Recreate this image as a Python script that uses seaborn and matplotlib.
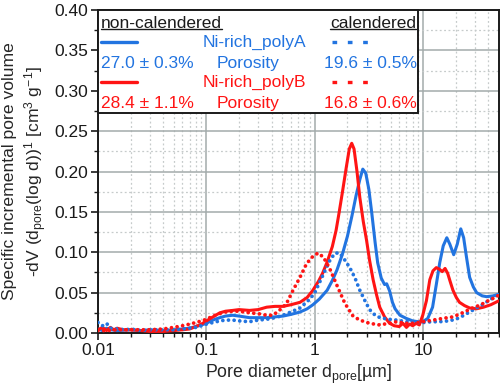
import matplotlib
matplotlib.use("Agg")
import matplotlib.pyplot as plt
import seaborn as sns
import numpy as np
import pandas as pd
from matplotlib.ticker import FixedLocator, FuncFormatter, MultipleLocator, LogLocator, NullFormatter
from matplotlib.lines import Line2D
from matplotlib.patches import Rectangle

# ---------------- data ----------------
dA_nc = [0.01, 0.011, 0.012, 0.013, 0.015, 0.02, 0.025, 0.03, 0.04, 0.05, 0.06, 0.07, 0.08, 0.09,
         0.1, 0.11, 0.12, 0.133, 0.15, 0.175, 0.2, 0.25, 0.3, 0.36, 0.43, 0.51, 0.6, 0.73, 0.85, 0.96,
         1.1, 1.3, 1.45, 1.6, 1.8, 2.0, 2.2, 2.4, 2.6, 2.77, 2.95, 3.15, 3.35, 3.6, 3.8, 4.1, 4.4,
         4.6, 4.9, 5.2, 5.5, 6.1, 7.0, 8.0, 9.0, 9.9, 11.0, 12.2, 13.2, 14.2, 15.3, 16.5, 17.6,
         19.1, 20.6, 22.2, 23.6, 25.0, 26.8, 29.0, 31.1, 35.0, 38.5, 44.0, 50.0]
vA_nc = [0.005, 0.003, 0.006, 0.004, 0.003, 0.004, 0.003, 0.004, 0.003, 0.004, 0.005, 0.006, 0.008, 0.010,
         0.012, 0.015, 0.017, 0.019, 0.021, 0.022, 0.021, 0.019, 0.019, 0.019, 0.020, 0.021, 0.023, 0.026, 0.030, 0.035,
         0.042, 0.053, 0.065, 0.078, 0.098, 0.120, 0.145, 0.170, 0.190, 0.203, 0.198, 0.178, 0.149, 0.112, 0.087, 0.068, 0.060,
         0.061, 0.052, 0.038, 0.030, 0.022, 0.018, 0.015, 0.014, 0.014, 0.018, 0.032, 0.060, 0.087, 0.108, 0.118, 0.110,
         0.097, 0.110, 0.129, 0.118, 0.095, 0.069, 0.057, 0.050, 0.046, 0.045, 0.046, 0.048]

dB_nc = [0.01, 0.011, 0.012, 0.013, 0.014, 0.015, 0.017, 0.02, 0.025, 0.03, 0.04, 0.05, 0.06, 0.07, 0.08, 0.09,
         0.1, 0.115, 0.133, 0.15, 0.175, 0.2, 0.25, 0.3, 0.36, 0.43, 0.51, 0.6, 0.73, 0.85, 0.96,
         1.08, 1.18, 1.3, 1.45, 1.57, 1.67, 1.8, 1.95, 2.08, 2.19, 2.3, 2.45, 2.6, 2.8, 3.0, 3.2, 3.45,
         3.7, 3.97, 4.4, 4.9, 5.4, 6.0, 6.5, 7.0, 7.5, 8.0, 8.6, 9.2, 9.9, 10.7, 11.5, 12.3, 13.2, 14.1,
         15.0, 15.9, 16.8, 17.8, 18.8, 20.2, 21.6, 24.0, 26.8, 31.0, 36.0, 42.0, 50.0]
vB_nc = [0.004, 0.007, 0.003, 0.007, 0.004, 0.006, 0.004, 0.004, 0.003, 0.002, 0.002, 0.003, 0.004, 0.005, 0.008, 0.011,
         0.015, 0.020, 0.025, 0.027, 0.028, 0.029, 0.028, 0.029, 0.032, 0.033, 0.033, 0.035, 0.038, 0.044, 0.053,
         0.064, 0.074, 0.088, 0.107, 0.127, 0.148, 0.175, 0.205, 0.228, 0.235, 0.228, 0.200, 0.168, 0.138, 0.115, 0.090, 0.066,
         0.048, 0.032, 0.020, 0.012, 0.009, 0.008, 0.012, 0.007, 0.011, 0.009, 0.012, 0.010, 0.022, 0.040, 0.066, 0.077, 0.081, 0.079,
         0.076, 0.080, 0.074, 0.063, 0.053, 0.044, 0.038, 0.034, 0.031, 0.030, 0.032, 0.035, 0.040]

dA_c = [0.01, 0.011, 0.012, 0.013, 0.015, 0.018, 0.02, 0.025, 0.03, 0.04, 0.05, 0.06, 0.07, 0.08, 0.09,
        0.1, 0.115, 0.133, 0.15, 0.175, 0.2, 0.25, 0.3, 0.36, 0.43, 0.51, 0.6, 0.73, 0.9, 1.0,
        1.1, 1.25, 1.4, 1.55, 1.7, 1.9, 2.1, 2.35, 2.6, 2.9, 3.2, 3.6, 4.0, 4.8, 5.7, 7.0, 8.5,
        10.0, 12.0, 14.2, 17.0, 20.0, 23.0, 26.8, 30.0, 35.0, 41.0, 46.0, 50.0]
vA_c = [0.013, 0.009, 0.012, 0.006, 0.005, 0.004, 0.005, 0.003, 0.004, 0.004, 0.004, 0.005, 0.006, 0.007, 0.009,
        0.011, 0.013, 0.015, 0.016, 0.016, 0.015, 0.014, 0.016, 0.017, 0.019, 0.022, 0.026, 0.031, 0.042, 0.050,
        0.062, 0.078, 0.092, 0.099, 0.099, 0.090, 0.081, 0.068, 0.053, 0.040, 0.029, 0.022, 0.019, 0.017, 0.016, 0.014, 0.013,
        0.013, 0.014, 0.014, 0.015, 0.017, 0.021, 0.026, 0.030, 0.035, 0.041, 0.045, 0.049]

dB_c = [0.01, 0.012, 0.015, 0.02, 0.025, 0.03, 0.04, 0.05, 0.06, 0.07, 0.08, 0.09,
        0.1, 0.115, 0.133, 0.15, 0.175, 0.2, 0.25, 0.3, 0.36, 0.41, 0.45, 0.5, 0.55, 0.63, 0.73, 0.84, 0.96,
        1.07, 1.2, 1.37, 1.6, 1.89, 2.25, 2.6, 3.2, 3.97, 4.8, 5.7, 6.8, 8.1, 10.0, 12.3, 15.0, 18.8,
        23.0, 28.5, 34.0, 41.0, 46.0, 50.0]
vB_c = [0.003, 0.003, 0.004, 0.004, 0.004, 0.004, 0.005, 0.007, 0.009, 0.011, 0.013, 0.015,
        0.017, 0.021, 0.024, 0.026, 0.027, 0.027, 0.025, 0.024, 0.022, 0.022, 0.026, 0.031, 0.037, 0.053, 0.069, 0.086, 0.095,
        0.099, 0.094, 0.080, 0.059, 0.037, 0.021, 0.016, 0.012, 0.010, 0.012, 0.014, 0.012, 0.012, 0.014, 0.016, 0.018, 0.020,
        0.025, 0.031, 0.035, 0.041, 0.044, 0.047]

series = [
    ("Ni-rich_polyA", "non-calendered", dA_nc, vA_nc),
    ("Ni-rich_polyB", "non-calendered", dB_nc, vB_nc),
    ("Ni-rich_polyA", "calendered", dA_c, vA_c),
    ("Ni-rich_polyB", "calendered", dB_c, vB_c),
]
porosity_nc = {"Ni-rich_polyA": "27.0 ± 0.3%", "Ni-rich_polyB": "28.4 ± 1.1%"}
porosity_c = {"Ni-rich_polyA": "19.6 ± 0.5%", "Ni-rich_polyB": "16.8 ± 0.6%"}
xticks = [0.01, 0.1, 1, 10]
xtick_labels = ["0.01", "0.1", "1", "10"]

BLUE = "#2274E0"
RED = "#FF1414"
colors = {"Ni-rich_polyA": BLUE, "Ni-rich_polyB": RED}

# ---------------- style ----------------
sns.set_theme(style="ticks")
plt.rcParams["font.family"] = ["Liberation Sans", "DejaVu Sans"]
plt.rcParams["mathtext.fontset"] = "custom"
plt.rcParams["mathtext.rm"] = "Liberation Sans"
plt.rcParams["mathtext.it"] = "Liberation Sans"
plt.rcParams["mathtext.bf"] = "Liberation Sans:bold"

fig = plt.figure(figsize=(5.0, 3.87), dpi=100)
ax = fig.add_axes([0.196, 0.1395, 0.802, 0.8345])

frames = []
for name, state, d, v in series:
    frames.append(pd.DataFrame({"d": d, "v": v, "sample": name, "state": state}))
df = pd.concat(frames, ignore_index=True)

for (name, state), sub in df.groupby(["sample", "state"], sort=False):
    if state == "non-calendered":
        sns.lineplot(data=sub, x="d", y="v", ax=ax, color=colors[name], lw=2.2,
                     sort=False, estimator=None, zorder=3)
    else:
        sns.lineplot(data=sub, x="d", y="v", ax=ax, color=colors[name], lw=2.7,
                     sort=False, estimator=None, zorder=3,
                     dashes=False, linestyle=(0, (0.01, 1.5)), dash_capstyle="round")

ax.set_xscale("log")
ax.set_xlim(0.01, 50)
ax.set_ylim(0, 0.40)
ax.xaxis.set_major_locator(FixedLocator(xticks))
ax.xaxis.set_major_formatter(FuncFormatter(lambda x, p: xtick_labels[xticks.index(x)] if x in xticks else ""))
ax.xaxis.set_minor_locator(LogLocator(base=10, subs=np.arange(2, 10)))
ax.xaxis.set_minor_formatter(NullFormatter())
ax.yaxis.set_major_locator(MultipleLocator(0.05))
ax.yaxis.set_minor_locator(MultipleLocator(0.025))
ax.yaxis.set_major_formatter(FuncFormatter(lambda y, p: f"{y:.2f}"))

ax.grid(which="major", color="#a3abab", lw=1.1, ls="-", zorder=0)
ax.grid(which="minor", color="#c6cbcb", lw=0.9, ls=(0, (1.5, 2)), zorder=0)
ax.set_axisbelow(True)
for s in ax.spines.values():
    s.set_color("#1a1a1a")
    s.set_linewidth(1.4)
ax.tick_params(which="major", direction="out", length=5, width=1.2, labelsize=12.5, colors="#1a1a1a", pad=2)
ax.tick_params(which="minor", direction="out", length=3, width=1.0, colors="#1a1a1a")

ax.set_xlabel("Pore diameter d$_{\\rm pore}$[µm]", fontsize=12.8, labelpad=4)
ax.set_ylabel("Specific incremental pore volume\n-dV (d$_{\\rm pore}$(log d))$^{1}$ [cm$^{3}$ g$^{-1}$]",
              fontsize=12.6, linespacing=1.3)
ax.yaxis.set_label_coords(-0.122, 0.5)

# ---------------- legend box ----------------
box_w = (418 - 98) / 401.0
box_h = (113 - 10) / 323.0
ax.add_patch(Rectangle((0, 1 - box_h), box_w, box_h, transform=ax.transAxes,
                       facecolor="white", edgecolor="#1a1a1a", lw=1.4, zorder=5, clip_on=False))

def px(x):
    return (x - 98) / 401.0

def py(y):
    return (333 - y) / 323.0

fs = 12.5
t1 = ax.text(px(101), py(23), "non-calendered", transform=ax.transAxes, ha="left", va="center",
             fontsize=fs, color="#1a1a1a", zorder=6)
t2 = ax.text(px(416), py(23), "calendered", transform=ax.transAxes, ha="right", va="center",
             fontsize=fs, color="#1a1a1a", zorder=6)

rows = [("Ni-rich_polyA", 42, 63), ("Ni-rich_polyB", 82, 103)]
for name, yl, yp in rows:
    c = colors[name]
    ax.add_line(Line2D([px(101), px(137)], [py(yl), py(yl)], transform=ax.transAxes,
                       color=c, lw=2.4, zorder=6))
    ax.add_line(Line2D([px(332), px(370)], [py(yl), py(yl)], transform=ax.transAxes,
                       color=c, lw=2.4, zorder=6, linestyle=(0, (1.4, 3.2))))
    ax.text(px(254), py(yl), name, transform=ax.transAxes, ha="center", va="center",
            fontsize=fs, color=c, zorder=6)
    ax.text(px(101), py(yp), porosity_nc[name], transform=ax.transAxes, ha="left", va="center",
            fontsize=fs, color=c, zorder=6)
    ax.text(px(248), py(yp), "Porosity", transform=ax.transAxes, ha="center", va="center",
            fontsize=fs, color=c, zorder=6)
    ax.text(px(417), py(yp), porosity_c[name], transform=ax.transAxes, ha="right", va="center",
            fontsize=fs, color=c, zorder=6)

# underline the two headers
fig.canvas.draw()
r = fig.canvas.get_renderer()
inv = ax.transAxes.inverted()
for t in (t1, t2):
    bb = t.get_window_extent(renderer=r)
    (x0, y0), (x1, _) = inv.transform([(bb.x0, bb.y0), (bb.x1, bb.y1)])
    ax.add_line(Line2D([x0, x1], [y0 + 0.004, y0 + 0.004], transform=ax.transAxes,
                       color="#1a1a1a", lw=1.0, zorder=6))

fig.savefig("out.png", dpi=100)
